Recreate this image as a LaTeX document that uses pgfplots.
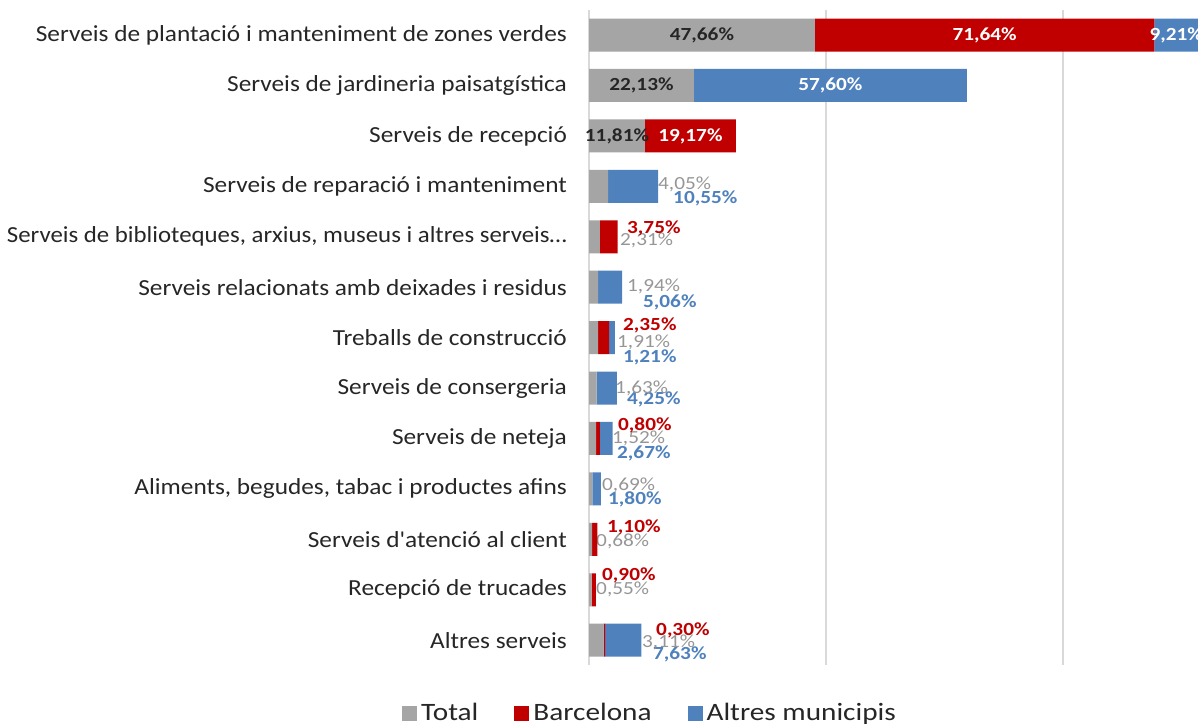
\documentclass[border=0pt]{standalone}
\usepackage{pgfplots}
\pgfplotsset{compat=1.18}
\usepackage{pgfplotstable}
\usepackage{graphicx}
\usepackage{fontspec}
\setmainfont{Carlito}[FakeStretch=1.15]
\newfontfamily\catfont{Carlito}[FakeStretch=1.10, Ligatures=TeXOff]
\newfontfamily\legfont{Carlito}[FakeStretch=1.17]
\definecolor{cTot}{HTML}{A5A5A5}
\definecolor{cBcn}{HTML}{C00000}
\definecolor{cAlt}{HTML}{4F81BD}
\definecolor{cGrid}{HTML}{D9D9D9}
\definecolor{cTxt}{HTML}{262626}
\definecolor{cGl}{HTML}{969696}

% row  total  barcelona  altres municipis
\pgfplotstableread{
row tot bcn alt
0  47.66 71.64 9.21
1  22.13 0     57.60
2  11.81 19.17 0
3  4.05  0     10.55
4  2.31  3.75  0
5  1.94  0     5.06
6  1.91  2.35  1.21
7  1.63  0     4.25
8  1.52  0.80  2.67
9  0.69  0     1.80
10 0.68  1.10  0
11 0.55  0.90  0
12 3.11  0.30  7.63
}\data

\tikzset{
  lab/.style={font=\fontsize{18.5}{20}\selectfont\bfseries, inner sep=0pt},
  labK/.style={lab, text=cTxt},
  labW/.style={lab, text=white},
  labG/.style={font=\fontsize{18.5}{20}\selectfont, inner sep=0pt, text=cGl, anchor=west},
  labR/.style={lab, text=cBcn, anchor=west},
  labB/.style={lab, text=cAlt, anchor=west},
}

\begin{document}
\begin{tikzpicture}
\useasboundingbox (0pt,0pt) rectangle (1198pt,-723pt);
\begin{axis}[
  at={(589pt,-9.8pt)}, anchor=north west,
  scale only axis, width=609pt, height=655.6pt,
  xbar stacked, bar width=33pt,
  xmin=0, xmax=128.5, ymin=-0.5, ymax=12.5, y dir=reverse,
  axis line style={draw=none},
  xtick={0,50,100}, xticklabels={},
  xmajorgrids, grid style={cGrid, line width=1.5pt},
  ytick={0,...,12},
  yticklabels={
    Serveis de plantació i manteniment de zones verdes,
    Serveis de jardineria paisatgística\hspace{7pt},
    Serveis de recepció,
    Serveis de reparació i manteniment,
    {\scalebox{0.982}[1]{Serveis de biblioteques, arxius, museus i altres serveis…}},
    Serveis relacionats amb deixades i residus,
    Treballs de construcció,
    Serveis de consergeria,
    Serveis de neteja,
    {Aliments, begudes, tabac i productes afins},
    Serveis d'atenció al client,
    Recepció de trucades,
    Altres serveis},
  major tick length=0pt,
  yticklabel style={font=\catfont\fontsize{23}{26}\selectfont, text=cTxt, inner sep=0pt, xshift=-22pt},
  legend columns=3,
  legend style={at={(-0.307,-0.0726)}, anchor=west, draw=none, fill=none,
    font=\legfont\fontsize{25}{26}\selectfont, text=cTxt, inner sep=0pt,
    nodes={inner xsep=4pt},
    /tikz/every even column/.append style={column sep=32pt}},
  legend cell align=left,
  legend image code/.code={\fill[#1] (0pt,-7.5pt) rectangle (15pt,7.5pt);},
]
\addplot[fill=cTot, draw=none] table[x=tot, y=row]{\data};
\addlegendentry{Total}
\addplot[fill=cBcn, draw=none] table[x=bcn, y=row]{\data};
\addlegendentry{Barcelona}
\addplot[fill=cAlt, draw=none] table[x=alt, y=row]{\data};
\addlegendentry{Altres municipis}

% anchor points for the labels inside the long bars
\coordinate (i1) at (axis cs:23.83,0);
\coordinate (i2) at (axis cs:83.48,0);
\coordinate (i3) at (axis cs:123.9,0);
\coordinate (i4) at (axis cs:11.07,1);
\coordinate (i5) at (axis cs:50.93,1);
\coordinate (i6) at (axis cs:5.905,2);
\coordinate (i7) at (axis cs:21.40,2);

% labels beside the short bars
\node[labG] at (axis cs:14.56,2.956) {4,05\%};
\node[labB] at (axis cs:17.73,3.234) {10,55\%};
\node[labR] at (axis cs:8.02,3.829) {3,75\%};
\node[labG] at (axis cs:6.54,4.067) {2,31\%};
\node[labG] at (axis cs:8.02,4.980) {1,94\%};
\node[labB] at (axis cs:11.39,5.298) {5,06\%};
\node[labR] at (axis cs:7.17,5.754) {2,35\%};
\node[labG] at (axis cs:5.91,6.091) {1,91\%};
\node[labB] at (axis cs:7.17,6.389) {1,21\%};
\node[labG] at (axis cs:5.49,7.004) {1,63\%};
\node[labB] at (axis cs:8.02,7.222) {4,25\%};
\node[labR] at (axis cs:6.12,7.738) {0,80\%};
\node[labG] at (axis cs:4.85,7.996) {1,52\%};
\node[labB] at (axis cs:5.91,8.294) {2,67\%};
\node[labG] at (axis cs:2.74,8.929) {0,69\%};
\node[labB] at (axis cs:4.01,9.206) {1,80\%};
\node[labR] at (axis cs:3.80,9.762) {1,10\%};
\node[labG] at (axis cs:1.48,10.040) {0,68\%};
\node[labR] at (axis cs:2.74,10.714) {0,90\%};
\node[labG] at (axis cs:1.48,10.992) {0,55\%};
\node[labR] at (axis cs:14.14,11.806) {0,30\%};
\node[labG] at (axis cs:11.18,12.044) {3,11\%};
\node[labB] at (axis cs:13.50,12.282) {7,63\%};
\end{axis}
\node[labK] at (i1) {47,66\%};
\node[labW] at (i2) {71,64\%};
\node[labW, overlay] at (i3) {9,21\%};
\node[labK] at (i4) {22,13\%};
\node[labW] at (i5) {57,60\%};
\node[labK] at (i6) {11,81\%};
\node[labW] at (i7) {19,17\%};
\end{tikzpicture}
\end{document}
